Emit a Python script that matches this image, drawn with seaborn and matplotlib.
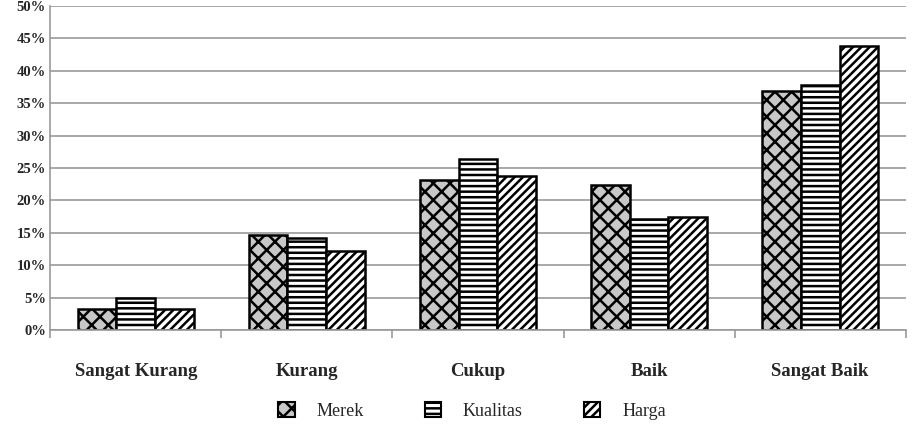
import pandas as pd
import numpy as np
import seaborn as sns
import matplotlib.pyplot as plt
from matplotlib.patches import Patch

# data
kategori = ['Sangat Kurang', 'Kurang', 'Cukup', 'Baik', 'Sangat Baik']
merek = [3.2, 14.6, 23.2, 22.4, 36.9]
kualitas = [4.9, 14.2, 26.4, 17.2, 37.8]
harga = [3.2, 12.2, 23.7, 17.5, 43.8]
seri = ['Merek', 'Kualitas', 'Harga']

df = pd.DataFrame({'Kategori': kategori * 3,
                   'Nilai': merek + kualitas + harga,
                   'Seri': [s for s in seri for _ in kategori]})

sns.set_style('white')
plt.rcParams['font.family'] = ['Liberation Serif', 'DejaVu Serif']
plt.rcParams['hatch.linewidth'] = 1.8

fig = plt.figure(figsize=(9.13, 4.32), dpi=100)
ax = fig.add_axes([0.055, 0.236, 0.937, 0.75])

ax.yaxis.grid(True, color='#999999', linewidth=1.2)
ax.set_axisbelow(True)

sns.barplot(data=df, x='Kategori', y='Nilai', hue='Seri', palette=['white'] * 3,
            width=0.68, gap=0, edgecolor='black', linewidth=1.8, legend=False, ax=ax)

# pola arsiran
hatches = ['xx', '---', '////']
faces = ['#c8c8c8', 'white', 'white']
for cont, h, fc in zip(ax.containers, hatches, faces):
    for bar in cont:
        bar.set_hatch(h)
        bar.set_facecolor(fc)

ax.set_ylim(0, 50)
ax.set_xlim(-0.5, 4.5)
ax.set_yticks(np.arange(0, 51, 5))
ax.set_yticklabels([f'{v}%' for v in range(0, 51, 5)], fontweight='bold', fontsize=10.5)
ax.set_xticklabels(kategori, fontweight='bold', fontsize=13.5)
ax.set_xlabel('')
ax.set_ylabel('')
ax.tick_params(axis='y', length=0, pad=3)
ax.tick_params(axis='x', length=0, pad=24)
ax.set_xticks(np.arange(-0.5, 4.6, 1), minor=True)
ax.tick_params(axis='x', which='minor', length=6, color='#999999', width=1.2, direction='out', bottom=True)

for s in ['top', 'right']:
    ax.spines[s].set_visible(False)
ax.spines['left'].set_color('#999999')
ax.spines['left'].set_linewidth(1.2)
ax.spines['bottom'].set_color('#999999')
ax.spines['bottom'].set_linewidth(1.2)

handles = [Patch(facecolor=fc, edgecolor='black', hatch=h, linewidth=1.5) for h, fc in zip(hatches, faces)]
fig.legend(handles, seri, loc='center', bbox_to_anchor=(0.517, 0.048), ncol=3, frameon=False,
           handlelength=0.9, handleheight=0.9, columnspacing=3.4, handletextpad=1.2, fontsize=13)

fig.savefig('out.png', dpi=100)
